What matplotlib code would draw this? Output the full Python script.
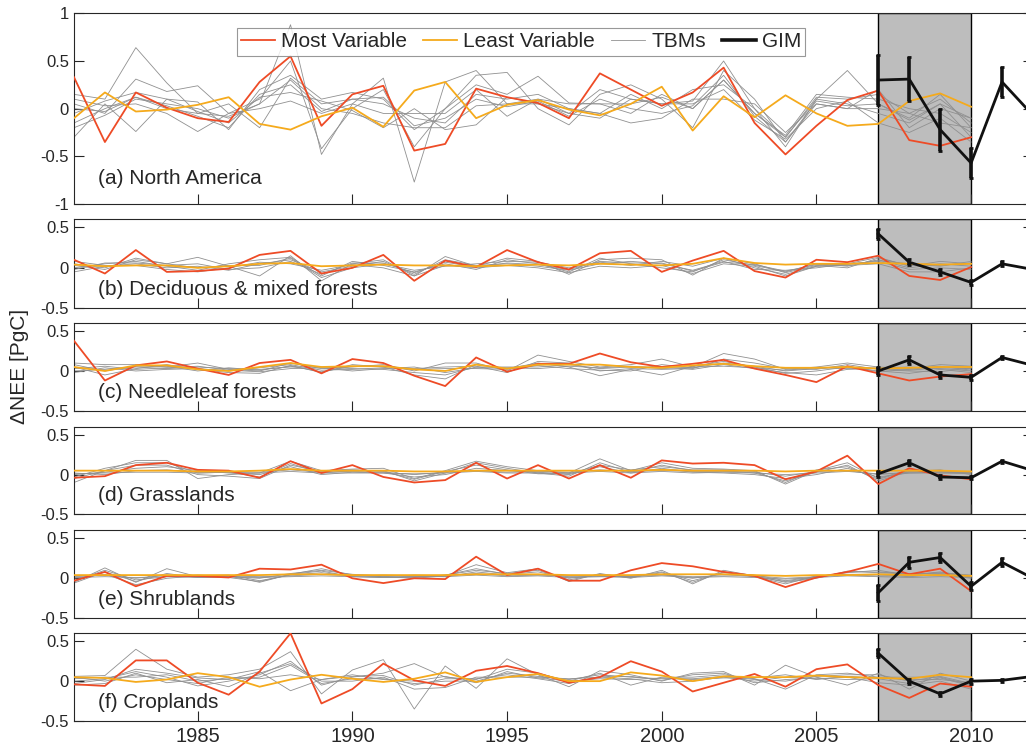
import matplotlib
matplotlib.use("Agg")
import matplotlib.pyplot as plt
from matplotlib.lines import Line2D
import numpy as np

plt.rcParams['font.family'] = ['Liberation Sans', 'DejaVu Sans']

years = np.arange(1981, 2011)
gim_years = np.arange(2007, 2013)

# (a) North America
a_most = [0.33, -0.35, 0.17, 0.01, -0.10, -0.14, 0.28, 0.55, -0.18, 0.15, 0.24, -0.44, -0.37, 0.21, 0.12,
          0.06, -0.10, 0.37, 0.20, 0.03, 0.17, 0.43, -0.15, -0.48, -0.18, 0.09, 0.19, -0.33, -0.39, -0.30]
a_least = [-0.10, 0.17, -0.03, -0.01, 0.04, 0.12, -0.16, -0.22, -0.08, 0.01, -0.19, 0.19, 0.28, -0.10, 0.04,
           0.09, -0.01, -0.07, 0.05, 0.23, -0.23, 0.13, -0.09, 0.14, -0.05, -0.18, -0.16, 0.08, 0.16, 0.02]
a_tbm = [
    [0.15, 0.10, 0.64, 0.27, -0.05, -0.08, 0.05, 0.88, -0.48, 0.05, 0.32, -0.77, 0.28, 0.40, 0.05,
     0.10, -0.05, 0.20, 0.10, 0.05, 0.08, 0.50, 0.00, -0.30, 0.10, 0.40, 0.05, -0.10, 0.15, -0.20],
    [0.05, -0.05, 0.31, 0.18, 0.24, -0.05, 0.10, 0.50, -0.42, 0.00, 0.20, -0.40, 0.00, 0.35, 0.38,
     0.00, -0.17, 0.15, 0.25, 0.10, -0.20, 0.40, 0.10, -0.35, 0.05, 0.00, 0.20, -0.20, 0.00, -0.10],
    [-0.05, 0.08, 0.17, 0.10, 0.07, -0.22, 0.20, 0.35, 0.10, 0.17, 0.10, -0.22, 0.00, 0.25, 0.15,
     0.34, 0.06, 0.05, -0.05, 0.15, 0.00, 0.30, -0.05, -0.28, 0.15, 0.12, 0.10, 0.00, -0.05, -0.25],
    [-0.15, 0.00, 0.12, 0.00, -0.05, 0.05, -0.20, 0.32, 0.05, 0.10, 0.05, -0.10, -0.15, 0.15, 0.10,
     0.15, 0.00, -0.05, 0.15, 0.00, 0.20, 0.25, 0.00, -0.40, 0.10, 0.05, -0.05, -0.15, 0.05, -0.30],
    [-0.20, -0.07, 0.10, 0.05, 0.00, -0.10, 0.05, 0.30, 0.00, -0.05, -0.15, -0.20, -0.20, 0.03, 0.05,
     0.05, -0.05, -0.10, 0.10, 0.05, 0.05, 0.20, -0.12, -0.32, 0.00, 0.08, -0.15, -0.25, -0.10, -0.35],
    [-0.30, 0.05, -0.24, 0.10, -0.03, -0.15, 0.12, 0.17, 0.08, -0.02, -0.20, 0.00, -0.22, -0.17, 0.12,
     0.05, 0.00, -0.05, -0.15, -0.10, 0.10, 0.10, 0.05, -0.25, 0.05, 0.00, 0.00, -0.05, -0.15, -0.20],
    [0.10, 0.03, 0.05, -0.05, -0.24, -0.05, 0.00, 0.08, -0.05, 0.05, -0.05, -0.05, -0.05, 0.20, -0.08,
     0.10, 0.05, 0.05, 0.05, 0.12, 0.00, 0.30, -0.05, -0.30, 0.12, 0.10, 0.15, -0.05, 0.10, -0.15],
    [0.00, -0.03, 0.12, 0.03, -0.08, -0.20, 0.15, 0.25, -0.03, 0.10, 0.12, -0.18, -0.10, 0.10, 0.02,
     0.08, -0.08, 0.10, 0.00, -0.05, 0.03, 0.35, -0.08, -0.35, 0.08, 0.03, 0.05, -0.12, 0.05, -0.10],
]
a_gim = [0.30, 0.31, -0.22, -0.57, 0.28, -0.07]
a_gim_err = [0.26, 0.23, 0.22, 0.16, 0.16, 0.0]

# (b) Deciduous & mixed forests
b_most = [0.10, -0.07, 0.22, -0.05, -0.04, -0.01, 0.16, 0.21, -0.07, 0.00, 0.16, -0.16, 0.09, 0.01, 0.22,
          0.07, -0.02, 0.18, 0.21, -0.05, 0.09, 0.21, -0.04, -0.12, 0.10, 0.07, 0.15, -0.10, -0.15, 0.01]
b_least = [0.04, 0.02, 0.03, 0.03, 0.00, 0.02, 0.05, 0.06, 0.02, 0.03, 0.04, 0.03, 0.03, 0.02, 0.03,
           0.04, 0.03, 0.05, 0.04, 0.03, 0.05, 0.12, 0.06, 0.04, 0.05, 0.05, 0.06, 0.05, 0.04, 0.05]
b_tbm = [
    [0.05, 0.00, 0.12, 0.05, 0.13, 0.02, -0.10, 0.15, -0.16, 0.05, 0.10, -0.10, 0.14, 0.02, 0.12,
     0.08, -0.08, 0.10, 0.12, 0.10, -0.09, 0.12, 0.00, -0.08, 0.02, 0.05, 0.13, 0.02, 0.08, 0.05],
    [0.00, 0.05, 0.08, 0.02, -0.03, 0.05, 0.10, 0.13, -0.10, 0.08, 0.03, -0.05, 0.05, -0.02, 0.10,
     0.05, -0.05, 0.12, 0.05, 0.00, -0.05, 0.10, 0.03, -0.05, 0.05, 0.02, 0.10, 0.00, 0.05, 0.02],
    [-0.05, 0.02, 0.05, 0.00, 0.02, -0.03, 0.05, 0.10, -0.05, 0.02, 0.08, -0.08, 0.10, 0.03, 0.05,
     0.02, -0.03, 0.05, 0.08, 0.05, -0.03, 0.08, -0.02, -0.03, 0.00, 0.05, 0.08, -0.02, 0.00, -0.02],
    [0.03, -0.02, 0.10, 0.05, 0.00, 0.03, 0.03, 0.12, -0.12, 0.00, 0.05, -0.03, 0.02, 0.05, 0.08,
     0.07, 0.00, 0.07, 0.03, 0.08, 0.02, 0.12, 0.05, -0.06, 0.03, 0.00, 0.12, 0.03, 0.03, 0.06],
    [0.08, 0.03, 0.03, -0.02, -0.05, 0.00, 0.07, 0.05, -0.03, 0.04, 0.00, -0.10, 0.03, 0.00, 0.03,
     0.00, -0.06, 0.02, 0.00, 0.03, -0.07, 0.05, 0.02, -0.10, 0.02, 0.03, 0.05, -0.05, -0.05, 0.00],
    [-0.02, 0.06, 0.06, 0.03, 0.05, -0.02, 0.00, 0.08, -0.08, 0.06, 0.06, -0.06, 0.07, 0.01, 0.06,
     0.04, -0.02, 0.08, 0.06, 0.06, -0.04, 0.07, 0.04, -0.04, 0.04, 0.04, 0.09, 0.05, 0.02, 0.08],
]
b_gim = [0.42, 0.07, -0.05, -0.18, 0.05, -0.02]
b_gim_err = [0.06, 0.04, 0.04, 0.03, 0.03, 0.0]

# (c) Needleleaf forests
c_most = [0.38, -0.12, 0.07, 0.12, 0.03, -0.05, 0.10, 0.14, -0.03, 0.15, 0.10, -0.06, -0.19, 0.17, -0.01,
          0.09, 0.09, 0.22, 0.11, 0.05, 0.09, 0.14, 0.03, -0.05, -0.14, 0.06, -0.03, -0.12, -0.07, -0.04]
c_least = [0.05, 0.00, 0.07, 0.07, 0.02, 0.00, 0.05, 0.10, 0.05, 0.06, 0.06, 0.02, 0.00, 0.08, 0.03,
           0.08, 0.08, 0.08, 0.05, 0.04, 0.07, 0.09, 0.06, 0.04, 0.04, 0.05, 0.03, 0.04, 0.05, 0.05]
c_tbm = [
    [0.10, 0.08, 0.08, 0.05, 0.10, 0.02, 0.00, 0.10, 0.03, 0.05, 0.08, 0.00, 0.10, 0.10, 0.00,
     0.20, 0.12, 0.05, 0.08, 0.15, 0.05, 0.22, 0.15, 0.02, 0.05, 0.10, 0.05, 0.03, 0.08, 0.06],
    [0.05, -0.05, 0.03, 0.08, 0.02, -0.02, -0.03, 0.07, -0.02, 0.08, 0.05, -0.05, -0.10, 0.08, 0.03,
     0.10, 0.05, -0.06, 0.02, -0.05, 0.06, 0.12, 0.05, -0.03, 0.00, 0.05, 0.00, -0.03, 0.02, -0.02],
    [0.00, 0.02, 0.05, 0.03, 0.05, 0.03, 0.02, 0.05, 0.05, 0.03, 0.02, -0.02, -0.05, 0.05, 0.05,
     0.05, 0.08, 0.03, 0.05, 0.05, 0.02, 0.08, 0.03, -0.02, -0.05, 0.02, 0.03, 0.01, 0.04, 0.03],
    [-0.02, 0.04, 0.00, 0.02, 0.03, 0.00, 0.04, 0.08, 0.01, 0.02, 0.04, 0.02, 0.03, 0.03, 0.02,
     0.07, 0.03, 0.01, 0.00, 0.08, 0.04, 0.10, 0.06, 0.00, 0.03, 0.06, -0.01, 0.02, 0.06, 0.01],
    [0.08, 0.00, 0.06, 0.06, 0.00, 0.04, 0.01, 0.06, -0.01, 0.06, 0.06, 0.03, 0.05, 0.06, -0.02,
     0.12, 0.10, 0.00, 0.03, 0.02, 0.03, 0.15, 0.10, 0.03, 0.02, 0.08, 0.02, 0.00, -0.01, 0.04],
    [0.03, 0.06, 0.02, 0.04, 0.06, 0.01, -0.01, 0.03, 0.04, 0.00, 0.03, 0.05, -0.02, 0.04, 0.04,
     0.03, 0.06, 0.04, 0.06, 0.03, 0.05, 0.06, 0.04, 0.01, 0.04, 0.03, 0.04, 0.05, 0.03, 0.00],
]
c_gim = [0.00, 0.14, -0.05, -0.08, 0.17, 0.07]
c_gim_err = [0.05, 0.05, 0.04, 0.03, 0.02, 0.0]

# (d) Grasslands
d_most = [-0.04, -0.02, 0.12, 0.15, 0.06, 0.05, -0.04, 0.17, 0.02, 0.12, -0.03, -0.10, -0.07, 0.15, -0.05,
          0.12, -0.05, 0.12, -0.04, 0.18, 0.14, 0.15, 0.12, -0.06, 0.04, 0.24, -0.12, 0.08, -0.01, -0.06]
d_least = [0.05, 0.05, 0.05, 0.05, 0.04, 0.04, 0.05, 0.07, 0.05, 0.05, 0.05, 0.04, 0.04, 0.05, 0.05,
           0.05, 0.05, 0.05, 0.05, 0.06, 0.05, 0.05, 0.05, 0.04, 0.05, 0.05, 0.05, 0.05, 0.05, 0.04]
d_tbm = [
    [-0.10, 0.05, 0.18, 0.18, -0.05, 0.00, 0.02, 0.17, 0.05, 0.07, 0.08, -0.05, 0.05, 0.17, 0.10,
     0.05, 0.02, 0.20, 0.05, 0.15, 0.08, 0.07, 0.05, -0.12, 0.05, 0.15, -0.05, 0.06, 0.05, 0.02],
    [-0.03, 0.08, 0.15, 0.15, 0.02, 0.03, -0.03, 0.14, 0.02, 0.05, 0.05, -0.08, 0.02, 0.15, 0.08,
     0.02, -0.02, 0.15, 0.03, 0.12, 0.05, 0.05, 0.02, -0.08, 0.03, 0.12, -0.08, 0.04, 0.06, 0.00],
    [0.00, 0.03, 0.08, 0.10, 0.05, 0.02, 0.00, 0.10, 0.00, 0.03, 0.02, -0.03, 0.00, 0.08, 0.05,
     0.03, 0.00, 0.10, 0.02, 0.08, 0.03, 0.02, 0.00, -0.05, 0.00, 0.08, -0.03, 0.02, 0.03, 0.03],
    [0.02, 0.00, 0.05, 0.06, 0.03, 0.04, 0.03, 0.06, 0.03, 0.04, 0.03, 0.00, 0.03, 0.05, 0.03,
     0.04, 0.03, 0.06, 0.04, 0.05, 0.04, 0.04, 0.03, -0.02, 0.04, 0.05, 0.00, 0.03, 0.04, 0.02],
    [-0.05, 0.05, 0.12, 0.12, 0.00, -0.02, -0.05, 0.12, 0.04, 0.06, 0.04, -0.06, 0.04, 0.12, 0.06,
     0.01, 0.01, 0.12, 0.06, 0.10, 0.06, 0.06, 0.04, -0.10, 0.06, 0.10, -0.06, 0.05, 0.02, 0.04],
    [0.01, 0.02, 0.03, 0.03, 0.02, 0.03, 0.02, 0.04, 0.02, 0.02, 0.02, 0.01, 0.02, 0.04, 0.02,
     0.02, 0.02, 0.04, 0.02, 0.04, 0.02, 0.03, 0.02, 0.00, 0.02, 0.04, 0.01, 0.02, 0.02, 0.01],
]
d_gim = [0.01, 0.15, -0.03, -0.04, 0.17, 0.05]
d_gim_err = [0.04, 0.03, 0.03, 0.02, 0.02, 0.0]

# (e) Shrublands
e_most = [-0.03, 0.08, -0.10, 0.03, 0.03, 0.01, 0.12, 0.11, 0.17, 0.00, -0.06, 0.00, -0.01, 0.27, 0.04,
          0.12, -0.03, -0.03, 0.10, 0.19, 0.15, 0.08, 0.03, -0.11, 0.01, 0.08, 0.18, 0.05, 0.12, -0.16]
e_least = [0.04, 0.04, 0.04, 0.04, 0.04, 0.04, 0.04, 0.05, 0.05, 0.04, 0.04, 0.04, 0.04, 0.05, 0.05,
           0.05, 0.04, 0.04, 0.04, 0.05, 0.05, 0.05, 0.04, 0.03, 0.04, 0.04, 0.05, 0.04, 0.04, 0.03]
e_tbm = [
    [-0.05, 0.13, -0.05, 0.12, 0.02, 0.03, -0.05, 0.05, 0.12, 0.04, 0.02, 0.00, 0.03, 0.17, 0.07,
     0.12, -0.04, 0.06, 0.00, 0.10, -0.07, 0.10, 0.03, -0.05, 0.00, 0.09, 0.07, 0.06, 0.06, 0.03],
    [-0.03, 0.10, -0.02, 0.02, 0.04, 0.02, 0.00, 0.06, 0.10, 0.05, 0.03, 0.02, 0.04, 0.12, 0.05,
     0.08, 0.00, 0.04, 0.02, 0.08, -0.03, 0.07, 0.04, -0.03, 0.02, 0.07, 0.10, 0.04, 0.08, 0.02],
    [0.00, 0.05, -0.08, 0.00, 0.03, 0.04, -0.03, 0.04, 0.07, 0.03, 0.04, 0.03, 0.02, 0.08, 0.04,
     0.05, 0.02, 0.02, 0.03, 0.05, 0.00, 0.05, 0.02, -0.07, 0.03, 0.05, 0.05, 0.02, 0.05, 0.00],
    [0.02, 0.04, 0.00, 0.04, 0.02, 0.03, 0.02, 0.03, 0.05, 0.03, 0.02, 0.04, 0.03, 0.06, 0.03,
     0.04, 0.03, 0.03, 0.02, 0.04, 0.02, 0.03, 0.03, 0.00, 0.02, 0.04, 0.03, 0.03, 0.04, 0.02],
    [-0.06, 0.08, -0.04, 0.06, 0.01, 0.01, -0.04, 0.05, 0.09, 0.02, 0.01, 0.01, 0.04, 0.10, 0.06,
     0.10, -0.02, 0.05, 0.01, 0.07, -0.05, 0.08, 0.02, -0.04, 0.01, 0.08, 0.08, 0.05, 0.07, 0.04],
    [0.01, 0.02, 0.01, 0.02, 0.01, 0.02, 0.01, 0.02, 0.03, 0.02, 0.01, 0.02, 0.02, 0.04, 0.02,
     0.03, 0.01, 0.02, 0.01, 0.03, 0.01, 0.02, 0.01, -0.01, 0.01, 0.03, 0.02, 0.01, 0.02, 0.01],
]
e_gim = [-0.18, 0.20, 0.26, -0.10, 0.20, 0.00]
e_gim_err = [0.10, 0.07, 0.06, 0.05, 0.05, 0.0]

# (f) Croplands
f_most = [-0.04, -0.06, 0.26, 0.26, -0.02, -0.17, 0.12, 0.60, -0.28, -0.10, 0.22, 0.01, -0.06, 0.13, 0.19,
          0.10, -0.02, 0.05, 0.25, 0.12, -0.13, -0.02, 0.09, -0.07, 0.15, 0.21, -0.05, -0.21, -0.03, -0.07]
f_least = [0.05, 0.04, -0.01, 0.02, 0.10, 0.05, -0.07, 0.02, 0.08, 0.03, -0.01, 0.03, 0.11, -0.01, 0.05,
           0.09, 0.00, 0.00, 0.11, 0.07, 0.00, 0.06, 0.05, 0.05, 0.07, 0.05, 0.04, 0.03, 0.08, 0.05]
f_tbm = [
    [0.06, 0.07, 0.40, 0.15, 0.05, 0.08, 0.15, 0.37, -0.16, 0.14, 0.27, -0.35, 0.19, -0.09, 0.28,
     0.08, -0.07, 0.13, 0.08, 0.00, 0.10, 0.12, -0.05, 0.20, 0.05, -0.05, 0.10, -0.10, 0.10, 0.00],
    [0.00, 0.03, 0.12, 0.05, -0.06, 0.00, 0.08, 0.25, -0.05, 0.05, 0.10, 0.22, 0.05, 0.02, 0.15,
     0.10, 0.00, 0.10, -0.05, 0.05, 0.05, 0.08, 0.03, -0.10, 0.08, 0.10, 0.05, 0.05, 0.05, -0.05],
    [-0.05, -0.03, 0.10, -0.02, 0.02, -0.07, 0.10, 0.22, 0.00, 0.00, 0.05, -0.10, -0.08, 0.05, 0.05,
     0.05, 0.03, 0.05, 0.03, -0.02, 0.00, 0.05, 0.00, 0.05, 0.03, 0.05, -0.02, -0.05, 0.00, -0.10],
    [0.03, 0.05, 0.05, 0.08, 0.00, 0.03, 0.05, 0.20, -0.03, 0.03, 0.03, -0.03, 0.00, 0.00, 0.10,
     0.06, 0.02, 0.08, 0.05, 0.03, 0.03, 0.06, 0.02, 0.00, 0.06, 0.08, 0.08, 0.00, 0.06, -0.03],
    [0.05, 0.00, 0.08, 0.02, -0.03, 0.05, 0.03, 0.08, 0.02, 0.06, 0.07, -0.05, 0.03, 0.03, 0.08,
     0.03, -0.03, 0.06, 0.06, 0.01, 0.08, 0.10, -0.02, 0.02, 0.04, 0.02, 0.03, -0.03, 0.04, -0.06],
    [-0.03, 0.02, 0.15, 0.10, 0.04, 0.02, 0.12, -0.12, 0.02, 0.08, 0.02, 0.00, 0.06, -0.02, 0.12,
     0.04, 0.00, 0.03, 0.02, 0.04, 0.02, 0.04, 0.04, 0.08, 0.02, 0.06, 0.04, 0.02, 0.02, -0.02],
]
f_gim = [0.35, 0.00, -0.16, 0.00, 0.01, 0.06]
f_gim_err = [0.05, 0.03, 0.03, 0.03, 0.02, 0.0]

labels = ['(a) North America', '(b) Deciduous & mixed forests', '(c) Needleleaf forests',
          '(d) Grasslands', '(e) Shrublands', '(f) Croplands']
most = [a_most, b_most, c_most, d_most, e_most, f_most]
least = [a_least, b_least, c_least, d_least, e_least, f_least]
tbms = [a_tbm, b_tbm, c_tbm, d_tbm, e_tbm, f_tbm]
gim = [a_gim, b_gim, c_gim, d_gim, e_gim, f_gim]
gim_err = [a_gim_err, b_gim_err, c_gim_err, d_gim_err, e_gim_err, f_gim_err]

red = '#ee4b26'
orange = '#f5aa1c'
grey = '#909090'
txt = '#262626'

# panel boxes in figure fractions: left, bottom, width, height
left, width = 0.0721, 0.9347
boxes = [(0.7269, 0.2553), (0.5873, 0.1191), (0.4502, 0.1170),
         (0.3119, 0.1161), (0.1723, 0.1178), (0.0348, 0.1174)]

fig = plt.figure(figsize=(10.26, 7.47), dpi=100)

for i in range(6):
    ax = fig.add_axes([left, boxes[i][0], width, boxes[i][1]])
    ax.axvspan(2007, 2010, facecolor='#bdbdbd', edgecolor='black', lw=1.0, zorder=0)
    for series in tbms[i]:
        ax.plot(years, series, color=grey, lw=0.6, zorder=2)
    ax.plot(years, most[i], color=red, lw=1.3, zorder=3)
    ax.plot(years, least[i], color=orange, lw=1.3, zorder=3)
    ax.errorbar(gim_years, gim[i], yerr=gim_err[i], color='#111111', lw=2.0,
                elinewidth=2.6, capsize=1.5, capthick=2, zorder=4)

    ax.set_xlim(1981, 2012)
    if i == 0:
        ax.set_ylim(-1, 1)
        ax.set_yticks([-1, -0.5, 0, 0.5, 1])
        ax.set_yticklabels(['-1', '-0.5', '0', '0.5', '1'])
        ax.text(0.025, 0.105, labels[i], transform=ax.transAxes, fontsize=15, color=txt)
    else:
        ax.set_ylim(-0.5, 0.6)
        ax.set_yticks([-0.5, 0, 0.5])
        ax.set_yticklabels(['-0.5', '0', '0.5'])
        ax.text(0.025, 0.15, labels[i], transform=ax.transAxes, fontsize=15, color=txt)

    ax.set_xticks([1985, 1990, 1995, 2000, 2005, 2010])
    if i < 5:
        ax.set_xticklabels([])
    ax.tick_params(axis='x', direction='in', length=7, width=0.8, colors=txt,
                   labelsize=14.5, pad=4, top=False)
    ax.tick_params(axis='y', direction='in', length=7, width=0.8, colors=txt,
                   labelsize=12, right=True)
    for s in ax.spines.values():
        s.set_color(txt)
        s.set_linewidth(0.8)

    if i == 0:
        handles = [Line2D([], [], color=red, lw=1.3),
                   Line2D([], [], color=orange, lw=1.3),
                   Line2D([], [], color=grey, lw=0.6),
                   Line2D([], [], color='#111111', lw=2.6)]
        names = ['Most Variable', 'Least Variable', 'TBMs', 'GIM']
        leg = ax.legend(handles, names, ncol=4, loc='upper left',
                        bbox_to_anchor=(0.17, 0.922), fontsize=15,
                        frameon=True, fancybox=False, handlelength=1.6,
                        columnspacing=0.8, handletextpad=0.3, borderpad=0.2,
                        borderaxespad=0)
        leg.get_frame().set_edgecolor('#7f7f7f')
        leg.get_frame().set_linewidth(0.8)
        for t in leg.get_texts():
            t.set_color(txt)

fig.text(0.019, 0.51, 'ΔNEE [PgC]', rotation=90, va='center', ha='center',
         fontsize=15, color=txt)

fig.savefig('out.png', dpi=100)
